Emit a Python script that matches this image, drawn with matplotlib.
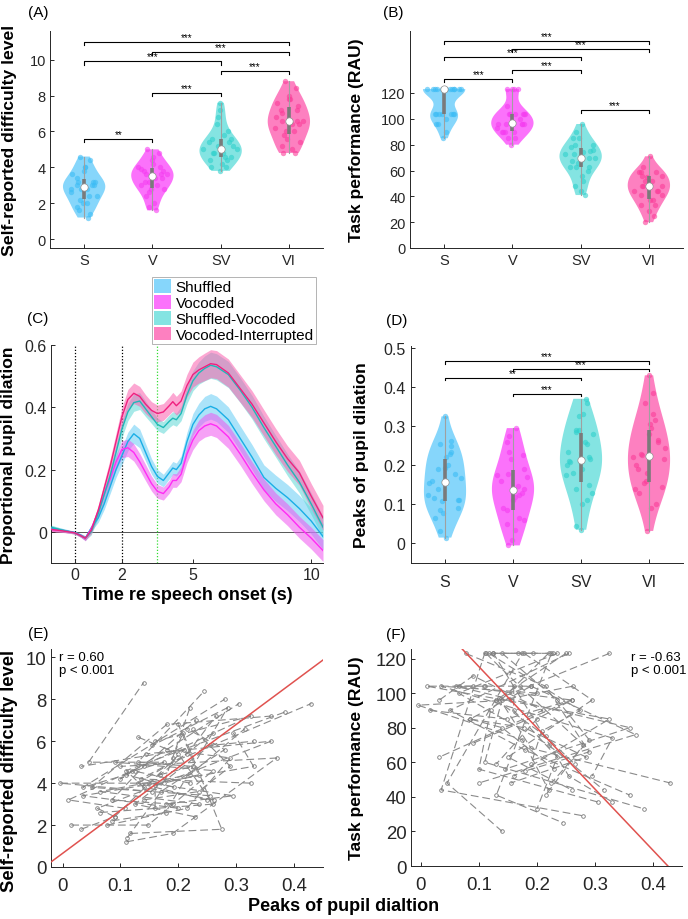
import numpy as np
import matplotlib
matplotlib.use('Agg')
import matplotlib.pyplot as plt
from matplotlib.patches import Patch

plt.rcParams['font.family'] = ['Liberation Sans', 'DejaVu Sans']

# ---------------- data ----------------
conds = ['S', 'V', 'SV', 'VI']
legend_labels = ['Shuffled', 'Vocoded', 'Shuffled-Vocoded', 'Vocoded-Interrupted']

# per-subject values (26 listeners), same subject order in each list
diff_S = [3.2, 2.4, 4.0, 1.8, 3.0, 2.8, 4.6, 2.0, 3.4, 1.2, 3.8, 2.6, 3.0, 2.2, 4.4, 2.8, 1.6, 3.2, 2.0, 3.6, 2.4, 3.0, 1.4, 4.0, 2.8, 3.2]
diff_V = [3.6, 2.8, 4.6, 2.4, 3.4, 3.2, 5.0, 2.0, 3.8, 1.6, 4.4, 3.0, 3.6, 2.6, 4.8, 3.4, 1.8, 3.8, 2.8, 4.0, 3.0, 3.2, 3.6, 4.2, 3.9, 4.0]
diff_SV = [4.8, 6.0, 4.2, 5.6, 4.0, 7.2, 5.0, 4.6, 6.8, 5.2, 3.8, 5.4, 4.4, 7.6, 5.0, 4.8, 6.4, 4.6, 5.2, 4.0, 5.8, 4.8, 5.6, 5.0, 4.4, 5.4]
diff_VI = [6.6, 5.4, 7.8, 4.8, 6.4, 6.0, 8.8, 5.0, 7.2, 4.8, 8.0, 6.2, 6.6, 5.8, 8.4, 6.4, 5.2, 7.4, 5.6, 7.6, 6.0, 7.0, 6.6, 7.8, 6.8, 7.2]

perf_S = [123, 104, 123, 96, 123, 104, 123, 90, 123, 104, 123, 104, 123, 85, 123, 100, 123, 104, 123, 96, 123, 104, 123, 123, 104, 123]
perf_V = [96, 104, 90, 110, 96, 104, 123, 85, 90, 104, 123, 96, 100, 80, 123, 104, 90, 96, 104, 93, 123, 85, 104, 97, 90, 96]
perf_SV = [73, 80, 56, 90, 63, 85, 48, 96, 67, 76, 44, 85, 70, 63, 41, 74, 78, 60, 66, 73, 52, 80, 70, 68, 63, 75]
perf_VI = [48, 56, 37, 63, 44, 52, 20, 71, 41, 48, 29, 59, 44, 48, 25, 52, 59, 33, 55, 44, 37, 56, 41, 48, 33, 59]

peak_S = [0.14, 0.09, 0.22, 0.032, 0.178, 0.108, 0.125, 0.015, 0.255, 0.11, 0.193, 0.065, 0.235, 0.085, 0.168, 0.2, 0.117, 0.262, 0.077, 0.155, 0.228, 0.19, 0.112, 0.325, 0.16, 0.25]
peak_V = [0.235, 0.06, 0.12, 0.09, 0.295, 0.01, 0.175, 0.148, 0.05, 0.19, 0.11, 0.26, 0.065, 0.178, 0.225, 0.035, 0.275, 0.14, 0.215, -0.005, 0.125, 0.085, 0.17, 0.135, 0.16, 0.13]
peak_SV = [0.29, 0.36, 0.1, 0.21, 0.15, 0.325, 0.045, 0.26, 0.18, 0.37, 0.035, 0.2, 0.22, 0.285, 0.13, 0.33, 0.208, 0.11, 0.29, 0.175, 0.255, 0.14, 0.28, 0.19, 0.235, 0.215]
peak_VI = [0.225, 0.145, 0.305, 0.032, 0.26, 0.16, 0.14, 0.09, 0.36, 0.1, 0.28, 0.13, 0.315, 0.155, 0.245, 0.295, 0.19, 0.385, 0.18, 0.22, 0.33, 0.23, 0.215, 0.43, 0.2, 0.265]

# pupil time courses
t = [-1.0, -0.5, 0.0, 0.25, 0.45, 0.7, 1.0, 1.25, 1.5, 1.75, 2.0, 2.25, 2.5, 2.75, 3.0, 3.25, 3.5, 3.75, 4.0, 4.15, 4.3,
     4.5, 4.75, 5.0, 5.25, 5.5, 5.75, 6.0, 6.5, 7.0, 7.5, 8.0, 8.5, 9.0, 9.5, 10.0, 10.5]
pup_S = [0.012, 0.005, -0.002, -0.01, -0.02, 0.012, 0.045, 0.09, 0.145, 0.2, 0.245, 0.29, 0.315, 0.3, 0.255, 0.21, 0.178,
         0.165, 0.19, 0.205, 0.2, 0.22, 0.29, 0.345, 0.375, 0.395, 0.403, 0.395, 0.36, 0.3, 0.24, 0.175, 0.14, 0.11, 0.075,
         0.035, -0.015]
pup_V = [0.008, 0.004, -0.003, -0.012, -0.022, 0.01, 0.065, 0.12, 0.17, 0.225, 0.265, 0.27, 0.255, 0.225, 0.19, 0.155,
         0.13, 0.123, 0.145, 0.165, 0.165, 0.185, 0.25, 0.295, 0.325, 0.34, 0.347, 0.34, 0.305, 0.25, 0.19, 0.135, 0.09,
         0.055, 0.015, -0.02, -0.06]
pup_SV = [0.015, 0.005, -0.003, -0.012, -0.02, 0.0, 0.06, 0.12, 0.18, 0.255, 0.33, 0.385, 0.415, 0.42, 0.395, 0.37, 0.345,
          0.335, 0.355, 0.365, 0.36, 0.38, 0.44, 0.485, 0.51, 0.525, 0.535, 0.53, 0.505, 0.455, 0.4, 0.335, 0.275, 0.215,
          0.16, 0.09, 0.015]
pup_VI = [0.008, 0.003, -0.003, -0.012, -0.02, 0.005, 0.07, 0.14, 0.21, 0.29, 0.37, 0.425, 0.445, 0.435, 0.41, 0.39, 0.38,
          0.385, 0.405, 0.418, 0.405, 0.42, 0.47, 0.505, 0.52, 0.53, 0.54, 0.537, 0.51, 0.46, 0.41, 0.35, 0.29, 0.235,
          0.19, 0.115, 0.045]
se_S = [0.008, 0.006, 0.004, 0.005, 0.007, 0.01, 0.014, 0.018, 0.022, 0.025, 0.028, 0.03, 0.031, 0.03, 0.028, 0.025,
        0.022, 0.02, 0.02, 0.021, 0.021, 0.024, 0.03, 0.035, 0.038, 0.04, 0.041, 0.041, 0.041, 0.04, 0.04, 0.04, 0.042,
        0.042, 0.042, 0.042, 0.042]
se_V = [0.006, 0.005, 0.004, 0.005, 0.007, 0.01, 0.015, 0.019, 0.022, 0.025, 0.027, 0.028, 0.028, 0.027, 0.026, 0.024,
        0.022, 0.021, 0.021, 0.022, 0.022, 0.024, 0.028, 0.031, 0.034, 0.036, 0.037, 0.037, 0.037, 0.036, 0.035, 0.035,
        0.035, 0.035, 0.035, 0.035, 0.035]
se_SV = [0.007, 0.005, 0.004, 0.005, 0.007, 0.01, 0.014, 0.018, 0.022, 0.025, 0.027, 0.028, 0.028, 0.027, 0.025, 0.022,
         0.02, 0.019, 0.02, 0.021, 0.021, 0.023, 0.028, 0.032, 0.036, 0.04, 0.042, 0.042, 0.042, 0.04, 0.038, 0.036, 0.035,
         0.035, 0.035, 0.035, 0.035]
se_VI = [0.007, 0.005, 0.004, 0.005, 0.007, 0.011, 0.016, 0.02, 0.024, 0.027, 0.03, 0.032, 0.033, 0.032, 0.03, 0.028,
         0.027, 0.027, 0.028, 0.03, 0.03, 0.032, 0.036, 0.04, 0.042, 0.044, 0.045, 0.045, 0.045, 0.044, 0.043, 0.042,
         0.042, 0.041, 0.04, 0.04, 0.04]

# significance brackets: (from, to, height, label)
sig_A = [(1, 4, 11.0, '***'), (2, 4, 10.45, '***'), (1, 3, 9.9, '***'), (3, 4, 9.37, '***'), (2, 3, 8.15, '***'), (1, 2, 5.6, '**')]
sig_B = [(1, 4, 160, '***'), (2, 4, 154, '***'), (1, 3, 147.5, '***'), (2, 3, 137.5, '***'), (1, 2, 130.5, '***'), (3, 4, 107, '***')]
sig_D = [(1, 4, 0.466, '***'), (2, 4, 0.447, '***'), (1, 3, 0.424, '**'), (2, 3, 0.383, '***')]

# regression lines (slope, intercept) and stats
fit_E = (20.5, 0.65)
fit_F = (-354.0, 150.7)
stat_E = 'r = 0.60\np < 0.001'
stat_F = 'r = -0.63\np < 0.001'

# ---------------- style ----------------
fill_c = ['#86d6fb', '#fb72fb', '#84e4e2', '#fd80c0']
dot_c = ['#3cbcf5', '#f53cf0', '#2fd0cc', '#fb3c98']
line_c = ['#1aaee6', '#ff2cf5', '#1fb8b8', '#f0207f']
band_c = ['#66ccf5', '#f055f0', '#5fd8d6', '#fa5fae']
axc = '#262626'
W, H = 688, 920
LAB = 12.6

fig = plt.figure(figsize=(W / 100, H / 100), dpi=100)


def add_ax(x0, y0, x1, y1, tick):
    ax = fig.add_axes([x0 / W, 1 - y1 / H, (x1 - x0) / W, (y1 - y0) / H])
    for s in ['top', 'right']:
        ax.spines[s].set_visible(False)
    for s in ['left', 'bottom']:
        ax.spines[s].set_color(axc)
        ax.spines[s].set_linewidth(0.7)
    ax.tick_params(direction='in', length=3, width=0.7, colors=axc, labelsize=tick, pad=3)
    return ax


def violins(ax, groups, widths=0.62):
    for i, d in enumerate(groups):
        d = np.asarray(d, float)
        pos = i + 1
        parts = ax.violinplot([d], positions=[pos], widths=widths, showextrema=False, bw_method='scott', points=200)
        for b in parts['bodies']:
            b.set_facecolor(fill_c[i])
            b.set_edgecolor('none')
            b.set_alpha(1.0)
            b.set_zorder(1)
        n = len(d)
        bw = n ** (-0.2) * np.std(d, ddof=1)
        grid = np.linspace(d.min(), d.max(), 200)
        dens = lambda y: np.exp(-0.5 * ((np.asarray(y)[:, None] - d[None, :]) / bw) ** 2).sum(1)
        hw = dens(d) / dens(grid).max() * widths / 2
        u = ((np.arange(n) * 0.618034 + 0.31) % 1) * 2 - 1
        ax.scatter(pos + u * hw * 0.85, d, s=15, color=dot_c[i], alpha=0.6, lw=0, zorder=2)
        q1, med, q3 = np.percentile(d, [25, 50, 75])
        ax.plot([pos, pos], [d.min(), d.max()], color='#a0a0a0', lw=0.8, zorder=3)
        ax.plot([pos, pos], [q1, q3], color='#7a7a7a', lw=2.6, solid_capstyle='butt', zorder=4)
        ax.scatter([pos], [med], s=28, color='white', edgecolors='#909090', lw=0.5, zorder=5)
    ax.set_xlim(0.5, 4.5)
    ax.set_xticks(range(1, 5))
    ax.set_xticklabels(conds)


def brackets(ax, sigs, h):
    for a, b, y, lab in sigs:
        ax.plot([a, a, b, b], [y - h, y, y, y - h], color='k', lw=0.8, zorder=6)
        ax.text((a + b) / 2, y, lab, ha='center', va='bottom', fontsize=7, zorder=6)


# ---- (A)
axA = add_ax(50, 32, 323, 249, 10.5)
violins(axA, [diff_S, diff_V, diff_SV, diff_VI])
brackets(axA, sig_A, 0.18)
axA.set_ylim(-0.5, 11.6)
axA.set_yticks([0, 2, 4, 6, 8, 10])
axA.set_ylabel('Self-reported difficulty level', fontsize=LAB, fontweight='bold')
axA.yaxis.set_label_coords(-0.122, 0.5)
axA.tick_params(axis='x', pad=3.5)

# ---- (B)
axB = add_ax(410, 32, 683, 249, 10.5)
violins(axB, [perf_S, perf_V, perf_SV, perf_VI])
brackets(axB, sig_B, 2.3)
axB.set_ylim(0, 168)
axB.set_yticks([0, 20, 40, 60, 80, 100, 120])
axB.set_ylabel('Task performance (RAU)', fontsize=LAB, fontweight='bold')
axB.yaxis.set_label_coords(-0.168, 0.5)
axB.tick_params(axis='x', pad=3.5)

# ---- (C)
axC = add_ax(51, 346, 323, 564, 11.5)
tt = np.asarray(t)
for m, se, fc, lc in zip([pup_S, pup_V, pup_SV, pup_VI], [se_S, se_V, se_SV, se_VI], band_c, line_c):
    m = np.asarray(m); se = np.asarray(se)
    axC.fill_between(tt, m - se, m + se, color=fc, alpha=0.55, lw=0, zorder=2)
    axC.plot(tt, m, color=lc, lw=1.0, zorder=3)
axC.axhline(0, color='#555555', lw=0.7, zorder=1)
axC.axvline(0, color='k', lw=0.9, ls=(0, (1, 1.5)), zorder=1)
axC.axvline(2, color='k', lw=0.9, ls=(0, (1, 1.5)), zorder=1)
axC.axvline(3.5, color='#33dd33', lw=0.9, ls=(0, (1, 1.5)), zorder=1)
axC.set_xlim(-1, 10.5)
axC.set_ylim(-0.1, 0.6)
axC.set_xticks([0, 2, 5, 10])
axC.set_yticks([0, 0.2, 0.4, 0.6])
axC.set_yticklabels(['0', '0.2', '0.4', '0.6'])
axC.tick_params(axis='x', pad=3)
axC.set_ylabel('Proportional pupil dilation', fontsize=LAB, fontweight='bold')
axC.yaxis.set_label_coords(-0.13, 0.5)
axC.set_xlabel('Time re speech onset (s)', fontsize=13, fontweight='bold')
axC.xaxis.set_label_coords(0.5, -0.105)
handles = [Patch(facecolor=c, edgecolor='none') for c in fill_c]
leg = axC.legend(handles, legend_labels, loc='upper left', bbox_to_anchor=(152 / W, 1 - 278 / H),
                 bbox_transform=fig.transFigure, fontsize=11, frameon=True, fancybox=False,
                 edgecolor='#a0a0a0', handlelength=1.1, handleheight=1.0, borderpad=0.15,
                 labelspacing=0.05, handletextpad=0.3, borderaxespad=0)
leg.get_frame().set_linewidth(0.7)

# ---- (D)
axD = add_ax(411, 347, 683, 564, 11.5)
violins(axD, [peak_S, peak_V, peak_SV, peak_VI])
brackets(axD, sig_D, 0.007)
axD.set_ylim(-0.05, 0.505)
axD.set_yticks([0, 0.1, 0.2, 0.3, 0.4, 0.5])
axD.set_yticklabels(['0', '0.1', '0.2', '0.3', '0.4', '0.5'])
axD.set_ylabel('Peaks of pupil dilation', fontsize=LAB, fontweight='bold')
axD.yaxis.set_label_coords(-0.155, 0.5)
axD.tick_params(axis='x', pad=8)
axD.tick_params(axis='y', pad=4)

# ---- (E) and (F)
xt = [0, 0.1, 0.2, 0.3, 0.4]
xtl = ['0', '0.1', '0.2', '0.3', '0.4']
peaks = np.array([peak_S, peak_V, peak_SV, peak_VI])
diffs = np.array([diff_S, diff_V, diff_SV, diff_VI])
perfs = np.array([perf_S, perf_V, perf_SV, perf_VI])

axE = add_ax(51, 650, 323, 868, 13.4)
axF = add_ax(411, 650, 682, 867, 13.4)
for ax, Y, fit in [(axE, diffs, fit_E), (axF, perfs, fit_F)]:
    for j in range(peaks.shape[1]):
        ax.plot(peaks[:, j], Y[:, j], ls=(0, (7, 3.5)), color='#8a8a8a', lw=0.8, marker='o', ms=2.6,
                mfc='none', mec='#7a7a7a', mew=0.6, zorder=2)
    xx = np.array([-0.05, 0.5])
    ax.plot(xx, fit[0] * xx + fit[1], color='#e0524f', lw=1.1, zorder=3)
    ax.set_xticks(xt)
    ax.set_xticklabels(xtl)
    ax.tick_params(axis='x', pad=7)

axE.set_xlim(-0.02, 0.45)
axE.set_ylim(0, 10.4)
axE.set_yticks([0, 2, 4, 6, 8, 10])
axE.set_ylabel('Self-reported difficulty level', fontsize=13.2, fontweight='bold')
axE.yaxis.set_label_coords(-0.122, 0.445)
axE.text(0.03, 0.99, stat_E, transform=axE.transAxes, fontsize=9.5, va='top', ha='left', linespacing=1.1)

axF.set_xlim(-0.017, 0.45)
axF.set_ylim(0, 125.5)
axF.set_yticks([0, 20, 40, 60, 80, 100, 120])
axF.set_ylabel('Task performance (RAU)', fontsize=LAB, fontweight='bold')
axF.yaxis.set_label_coords(-0.175, 0.5)
axF.text((631 - 411) / 271, 0.99, stat_F, transform=axF.transAxes, fontsize=9.5, va='top', ha='left', linespacing=1.1)

fig.text(344 / W, 1 - 907 / H, 'Peaks of pupil dialtion', fontsize=13, fontweight='bold', ha='center', va='center')

# panel letters
for lab, x, y in [('(A)', 28, 13), ('(B)', 383, 13), ('(C)', 27, 319), ('(D)', 386, 321), ('(E)', 28, 634), ('(F)', 386, 635)]:
    fig.text(x / W, 1 - y / H, lab, fontsize=11, ha='left', va='center')

fig.savefig('out.png', dpi=100)
